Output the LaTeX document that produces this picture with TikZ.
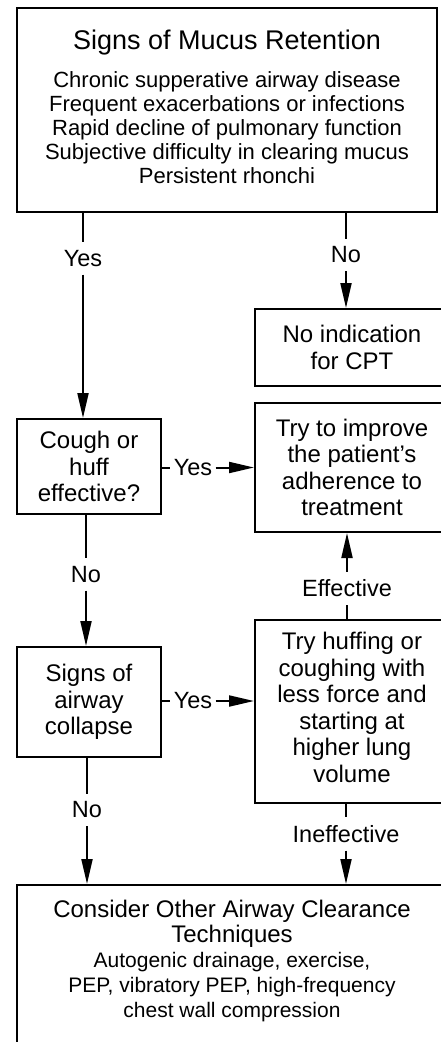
\documentclass[tikz,border=0pt]{standalone}
\usepackage{fontspec}
\setmainfont{Liberation Sans}
\usetikzlibrary{arrows.meta}
\begin{document}
\begin{tikzpicture}[x=1pt, y=-1pt, line width=2pt, >={Triangle[length=25pt,width=11pt]},
  box/.style={draw, align=center, inner sep=0pt, font=\fontsize{24}{26.5}\selectfont},
  lbl/.style={fill=white, inner xsep=2.5pt, inner ysep=7pt, font=\fontsize{23.5}{26}\selectfont}]
  \path[use as bounding box, clip] (0,0) rectangle (441,1042);
  \fill[white] (0,0) rectangle (441,1042);
  \node[box, minimum width=420pt, minimum height=204pt, text depth=6.4pt, font=\fontsize{22}{24}\selectfont] (mucus) at (227,110)
    {{\fontsize{27}{30}\selectfont Signs of Mucus Retention}\\[13.3pt]
     Chronic supperative airway disease\\
     Frequent exacerbations or infections\\
     Rapid decline of pulmonary function\\
     Subjective difficulty in clearing mucus\\
     Persistent rhonchi};
  \node[box, minimum width=194pt, minimum height=77pt] (noind) at (352,347.5) {No indication\\for CPT};
  \node[box, minimum width=194pt, minimum height=129pt] (adhere) at (352,467.5) {Try to improve\\the patient's\\adherence to\\treatment};
  \node[box, minimum width=144pt, minimum height=95pt] (cough) at (89,466.5) {Cough or\\huff\\effective?};
  \node[box, minimum width=144pt, minimum height=110pt] (collapse) at (89,702) {Signs of\\airway\\collapse};
  \node[box, minimum width=194pt, minimum height=183pt, text depth=8pt] (huff) at (352,711.5)
    {Try huffing or\\coughing with\\less force and\\starting at\\higher lung\\volume};
  \node[box, minimum width=430pt, anchor=north, inner ysep=15.5pt, text depth=90pt, font=\fontsize{21}{25}\selectfont] (other) at (232,884)
    {{\fontsize{24}{25}\selectfont Consider Other Airway Clearance}\\
     {\fontsize{24}{25}\selectfont Techniques}\\
     Autogenic drainage, exercise,\\
     PEP, vibratory PEP, high-frequency\\
     chest wall compression};
  \node[lbl] (yes1) at (83,258.5) {Yes};
  \node[lbl] (no1) at (346,255) {No};
  \node[lbl] (yes2) at (193,467.5) {Yes};
  \node[lbl] (no2) at (86,574.5) {No};
  \node[lbl] (eff) at (347,588.5) {Effective};
  \node[lbl] (yes3) at (193,701) {Yes};
  \node[lbl] (no3) at (87,810) {No};
  \node[lbl] (ineff) at (346,834) {Ineffective};
  \draw (mucus.south -| yes1) -- (yes1);
  \draw[->] (yes1) -- (yes1 |- cough.north);
  \draw (mucus.south -| no1) -- (no1);
  \draw[->] (no1) -- (no1 |- noind.north);
  \draw (cough.east |- yes2) -- (yes2);
  \draw[->] (yes2) -- (yes2 -| adhere.west);
  \draw (cough.south -| no2) -- (no2);
  \draw[->] (no2) -- (no2 |- collapse.north);
  \draw (huff.north -| eff) -- (eff);
  \draw[->] (eff) -- (eff |- adhere.south);
  \draw (collapse.east |- yes3) -- (yes3);
  \draw[->] (yes3) -- (yes3 -| huff.west);
  \draw (collapse.south -| no3) -- (no3);
  \draw[->] (no3) -- (no3 |- other.north);
  \draw (huff.south -| ineff) -- (ineff);
  \draw[->] (ineff) -- (ineff |- other.north);
\end{tikzpicture}
\end{document}
